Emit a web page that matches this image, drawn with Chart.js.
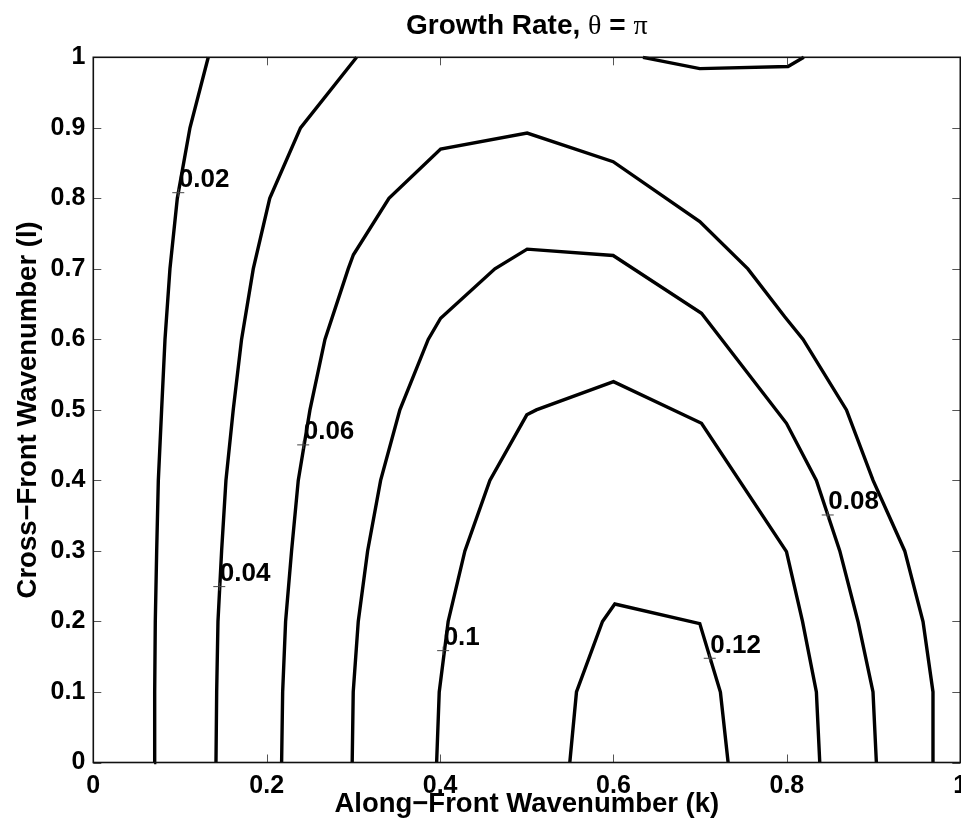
<!DOCTYPE html>
<html><head><meta charset="utf-8">
<script src="https://cdn.jsdelivr.net/npm/chart.js@4.4.0/dist/chart.umd.min.js"></script>
<style>html,body{margin:0;padding:0;background:#fff;}#wrap{width:961px;height:828px;}</style>
</head><body><div id="wrap"><canvas id="c" width="961" height="828"></canvas></div>
<script>
// ---- axis ticks ----
const xTicks = [0, 0.2, 0.4, 0.6, 0.8, 1];
const xTickLabels = ['0', '0.2', '0.4', '0.6', '0.8', '1'];
const yTicks = [0, 0.1, 0.2, 0.3, 0.4, 0.5, 0.6, 0.7, 0.8, 0.9, 1];
const yTickLabels = ['0', '0.1', '0.2', '0.3', '0.4', '0.5', '0.6', '0.7', '0.8', '0.9', '1'];

// ---- contour lines (k = along-front, l = cross-front) ----
const c002K = [0.0701, 0.0708, 0.0715, 0.0731, 0.0750, 0.0788, 0.0827, 0.0884, 0.0969, 0.1115, 0.1326];
const c002L = [0, 0.1, 0.2, 0.3, 0.4, 0.5, 0.6, 0.7, 0.8, 0.9, 1];

const c004K = [0.1415, 0.1423, 0.1438, 0.1480, 0.1530, 0.1614, 0.1710, 0.1845, 0.2035, 0.2390, 0.3037];
const c004L = [0, 0.1, 0.2, 0.3, 0.4, 0.5, 0.6, 0.7, 0.8, 0.9, 1];

const c004bK = [0.634, 0.6995, 0.8013, 0.8195];
const c004bL = [1, 0.984, 0.987, 1];

const c006K = [0.2172, 0.2184, 0.2218, 0.2287, 0.2364, 0.2499, 0.2672, 0.2940, 0.3000, 0.3410, 0.4006, 0.5004, 0.5996, 0.6995, 0.7550, 0.7975, 0.8187, 0.8687, 0.8994, 0.9359, 0.9570, 0.9685, 0.9685];
const c006L = [0, 0.1, 0.2, 0.3, 0.4, 0.5, 0.6, 0.7, 0.72, 0.8, 0.87, 0.8925, 0.852, 0.767, 0.7, 0.632, 0.6, 0.5, 0.4, 0.3, 0.2, 0.1, 0];

const c008K = [0.2986, 0.2998, 0.3056, 0.3164, 0.3314, 0.3536, 0.3863, 0.4006, 0.4632, 0.5004, 0.5996, 0.7015, 0.7995, 0.8340, 0.8610, 0.8820, 0.8993, 0.9032];
const c008L = [0, 0.1, 0.2, 0.3, 0.4, 0.5, 0.6, 0.63, 0.7, 0.728, 0.719, 0.637, 0.481, 0.4, 0.3, 0.2, 0.1, 0];

const c010K = [0.3960, 0.3990, 0.4093, 0.4286, 0.4574, 0.5000, 0.5110, 0.6000, 0.7015, 0.7995, 0.8180, 0.8340, 0.8379];
const c010L = [0, 0.1, 0.2, 0.3, 0.4, 0.493, 0.5, 0.54, 0.481, 0.299, 0.2, 0.1, 0];

const c012K = [0.5496, 0.5573, 0.5873, 0.6015, 0.6995, 0.7233, 0.7322];
const c012L = [0, 0.1, 0.2, 0.2248, 0.197, 0.1, 0];

// ---- contour labels ----
const labelText = ['0.02', '0.04', '0.06', '0.08', '0.1', '0.12'];
const labelK = [0.0980, 0.1453, 0.2421, 0.8471, 0.4035, 0.7110];
const labelL = [0.808, 0.2494, 0.4504, 0.351, 0.1586, 0.1478];

const titleParts = [['Growth Rate, ', 'b'], ['\u03B8', 's'], [' = ', 'b'], ['\u03C0', 's']];
const xTitle = 'Along\u2212Front Wavenumber (k)';
const yTitle = 'Cross\u2212Front Wavenumber (l)';

const FAM = '"Liberation Sans", Arial, Helvetica, sans-serif';

const contourSets = [[c002K, c002L], [c004K, c004L], [c004bK, c004bL], [c006K, c006L], [c008K, c008L], [c010K, c010L], [c012K, c012L]];
const datasets = contourSets.map(([ks, ls]) => ({
  data: ks.map((k, i) => ({x: k, y: ls[i]})),
  showLine: true, borderColor: '#000', borderWidth: 3.4, pointRadius: 0,
  fill: false, tension: 0, borderJoinStyle: 'miter', clip: false
}));

const framePlugin = {
  id: 'frame',
  afterDatasetsDraw(chart) {
    const {ctx, chartArea: a, scales: {x, y}} = chart;
    ctx.save();
    ctx.strokeStyle = '#555'; ctx.lineWidth = 1;
    ctx.beginPath();
    xTicks.forEach(v => {
      const px = Math.round(x.getPixelForValue(v)) + 0.5;
      ctx.moveTo(px, a.bottom); ctx.lineTo(px, a.bottom - 8);
      ctx.moveTo(px, a.top); ctx.lineTo(px, a.top + 8);
    });
    yTicks.forEach(v => {
      const py = Math.round(y.getPixelForValue(v)) + 0.5;
      ctx.moveTo(a.left, py); ctx.lineTo(a.left + 8, py);
      ctx.moveTo(a.right, py); ctx.lineTo(a.right - 8, py);
    });
    ctx.stroke();
    ctx.strokeStyle = '#111'; ctx.lineWidth = 1.6;
    ctx.strokeRect(a.left, a.top, a.right - a.left, a.bottom - a.top);
    ctx.strokeStyle = '#444'; ctx.lineWidth = 1;
    ctx.fillStyle = '#000';
    ctx.font = 'bold 26px ' + FAM;
    ctx.textAlign = 'left'; ctx.textBaseline = 'alphabetic';
    labelText.forEach((t, i) => {
      const px = x.getPixelForValue(labelK[i]);
      const py = y.getPixelForValue(labelL[i]);
      ctx.beginPath();
      ctx.moveTo(px - 6, py); ctx.lineTo(px + 6, py);
      ctx.moveTo(px, py - 4); ctx.lineTo(px, py + 4);
      ctx.stroke();
      ctx.fillText(t, px + 0.5, py - 5.5);
    });
    ctx.restore();
  },
  afterDraw(chart) {
    const {ctx, chartArea: a} = chart;
    ctx.save();
    ctx.fillStyle = '#000';
    ctx.textBaseline = 'alphabetic';
    const fonts = {b: 'bold 28px ' + FAM, s: '28px "Liberation Serif", "Times New Roman", serif'};
    let total = 0;
    titleParts.forEach(([t, f]) => { ctx.font = fonts[f]; total += ctx.measureText(t).width; });
    let cx = (a.left + a.right) / 2 - total / 2;
    titleParts.forEach(([t, f]) => { ctx.font = fonts[f]; ctx.textAlign = 'left'; ctx.fillText(t, cx, 34); cx += ctx.measureText(t).width; });
    ctx.restore();
  }
};

new Chart(document.getElementById('c'), {
  type: 'scatter',
  data: {datasets},
  options: {
    responsive: false, animation: false, devicePixelRatio: 1,
    layout: {padding: {top: 57.3, right: 0.7, bottom: 0, left: 0}},
    plugins: {legend: {display: false}, tooltip: {enabled: false}, title: {display: false}},
    scales: {
      x: {
        type: 'linear', position: 'bottom', min: 0, max: 1,
        afterBuildTicks: s => { s.ticks = xTicks.map(v => ({value: v})); },
        afterFit: s => { s.height = 65.5; s.paddingLeft = 0; s.paddingRight = 0; },
        grid: {display: false, drawTicks: false}, border: {display: false},
        ticks: {callback: (v, i) => xTickLabels[i], color: '#000', padding: 8.5, maxRotation: 0, autoSkip: false,
                font: {family: FAM, size: 25, weight: 'bold'}},
        title: {display: true, text: xTitle, color: '#000', padding: {top: 0, bottom: 6.8},
                font: {family: FAM, size: 27.5, weight: 'bold'}}
      },
      y: {
        type: 'linear', position: 'left', min: 0, max: 1,
        afterBuildTicks: s => { s.ticks = yTicks.map(v => ({value: v})); },
        afterFit: s => { s.width = 93.3; s.paddingTop = 0; s.paddingBottom = 0; },
        grid: {display: false, drawTicks: false}, border: {display: false},
        ticks: {callback: (v, i) => yTickLabels[i], color: '#000', padding: 8, autoSkip: false,
                font: {family: FAM, size: 25, weight: 'bold'}},
        title: {display: true, text: yTitle, color: '#000', padding: {top: 12, bottom: 0},
                font: {family: FAM, size: 27.5, weight: 'bold'}}
      }
    }
  },
  plugins: [framePlugin]
});
</script>
</body></html>
